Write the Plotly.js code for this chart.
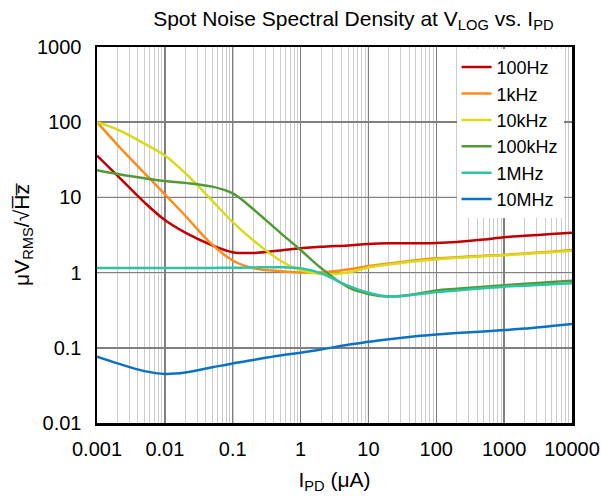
<!DOCTYPE html>
<html>
<head>
<meta charset="utf-8">
<script src="https://cdn.plot.ly/plotly-3.0.1.min.js"></script>
<style>html,body{margin:0;padding:0;background:#fff;}#chart{width:601px;height:501px;}</style>
</head>
<body>
<div id="chart"></div>
<script>
const ipd = [0.001, 0.002, 0.005, 0.01, 0.02, 0.05, 0.1, 0.2, 0.5, 1, 2, 5, 10, 20, 50, 100, 200, 500, 1000, 2000, 5000, 10000];
const n100Hz  = [36, 19.5, 8.6, 5.0, 3.4, 2.3, 1.87, 1.82, 1.97, 2.1, 2.2, 2.3, 2.4, 2.45, 2.45, 2.47, 2.55, 2.75, 2.95, 3.08, 3.25, 3.4];
const n1kHz   = [100, 50, 21, 11, 5.7, 2.35, 1.45, 1.15, 1.04, 1.0, 1.0, 1.1, 1.22, 1.32, 1.46, 1.55, 1.6, 1.68, 1.72, 1.8, 1.9, 2.0];
const n10kHz  = [100, 80, 52, 36, 21, 9, 4.7, 2.7, 1.45, 1.08, 0.96, 1.0, 1.17, 1.28, 1.42, 1.5, 1.57, 1.65, 1.7, 1.77, 1.87, 1.95];
const n100kHz = [23, 20.5, 18, 16.5, 15.6, 13.9, 11.3, 7.0, 3.4, 2.0, 1.15, 0.64, 0.52, 0.48, 0.52, 0.58, 0.61, 0.65, 0.68, 0.71, 0.75, 0.78];
const n1MHz   = [1.15, 1.15, 1.15, 1.15, 1.15, 1.15, 1.16, 1.17, 1.18, 1.14, 0.98, 0.67, 0.54, 0.48, 0.51, 0.55, 0.58, 0.62, 0.65, 0.67, 0.7, 0.72];
const n10MHz  = [0.076, 0.062, 0.049, 0.045, 0.047, 0.055, 0.062, 0.069, 0.079, 0.086, 0.095, 0.11, 0.12, 0.13, 0.142, 0.15, 0.157, 0.165, 0.172, 0.18, 0.195, 0.207];
const seriesNames = ['100Hz', '1kHz', '10kHz', '100kHz', '1MHz', '10MHz'];
const seriesData = [n100Hz, n1kHz, n10kHz, n100kHz, n1MHz, n10MHz];
const colors = ['#c00000', '#ff8c1a', '#dada1c', '#529a36', '#2ec4a2', '#0a72c4'];
const xTicks = [0.001, 0.01, 0.1, 1, 10, 100, 1000, 10000];
const xTickText = ['0.001', '0.01', '0.1', '1', '10', '100', '1000', '10000'];
const yTicks = [0.01, 0.1, 1, 10, 100, 1000];
const yTickText = ['0.01', '0.1', '1', '10', '100', '1000'];

const traces = seriesData.map((d, i) => ({
  x: ipd, y: d, name: seriesNames[i], type: 'scatter', mode: 'lines',
  line: {color: colors[i], width: 2.5, shape: 'spline', smoothing: 1}
}));

const FONT = 'Liberation Sans, Arial, sans-serif';
const shapes = [];
[0.1, 10, 1000].forEach(v => shapes.push({type:'line', xref:'x', yref:'paper', x0:v, x1:v, y0:0, y1:1, line:{color:'#000', width:1}, layer:'below'}));
[10, 1, 0.1].forEach(v => shapes.push({type:'line', xref:'paper', yref:'y', x0:0, x1:1, y0:v, y1:v, line:{color:'#000', width:1}, layer:'below'}));

const layout = {
  width: 601, height: 501,
  margin: {l: 97, r: 29, t: 47, b: 78},
  paper_bgcolor: '#fff', plot_bgcolor: '#fff',
  font: {family: FONT, color: '#000', size: 19},
  title: {text: 'Spot Noise Spectral Density at V<sub>LOG</sub> vs. I<sub>PD</sub>', x: 0.588, xanchor: 'center', y: 0.963, yanchor: 'middle', font: {size: 21, family: FONT}},
  xaxis: {
    type: 'log', range: [-3, 4], tickvals: xTicks, ticktext: xTickText,
    tickfont: {size: 20}, ticks: 'outside', ticklen: 6, tickcolor: 'rgba(0,0,0,0)', showgrid: true, gridcolor: '#7f7f7f', gridwidth: 1.5,
    minor: {showgrid: true, gridcolor: '#cccccc', gridwidth: 1, dtick: 'D1'},
    showline: true, linecolor: '#000', linewidth: 2.5, mirror: true, zeroline: false,
    title: {text: 'I<sub>PD</sub> (μA)', font: {size: 21}, standoff: 14}
  },
  yaxis: {
    type: 'log', range: [-2, 3], tickvals: yTicks, ticktext: yTickText,
    tickfont: {size: 20}, ticks: 'outside', ticklen: 9, tickcolor: 'rgba(0,0,0,0)', showgrid: true, gridcolor: '#7f7f7f', gridwidth: 1.5,
    showline: true, linecolor: '#000', linewidth: 2.5, mirror: true, zeroline: false,
    title: {text: 'μV<sub>RMS</sub>/√H̅z̅', font: {size: 21}, standoff: 2}
  },
  shapes: shapes,
  legend: {x: 0.757, y: 0.995, xanchor: 'left', yanchor: 'top', bgcolor: '#fff', borderwidth: 0, font: {size: 18}, tracegroupgap: 0, itemwidth: 30},
  showlegend: true
};
Plotly.newPlot('chart', traces, layout, {displayModeBar: false, staticPlot: true});
</script>
</body>
</html>
